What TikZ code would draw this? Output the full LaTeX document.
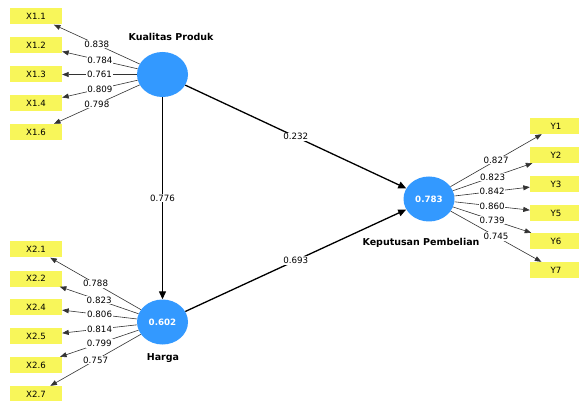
\documentclass[tikz,border=0pt]{standalone}
\usepackage{fontspec}
\setmainfont{DejaVu Sans}
\usetikzlibrary{shapes.geometric,arrows.meta}
\definecolor{plsblue}{RGB}{51,153,255}
\definecolor{plsyellow}{RGB}{248,246,90}
\begin{document}
\begin{tikzpicture}[x=1pt,y=-1pt,
  lv/.style={ellipse,fill=plsblue,minimum width=51pt,minimum height=45pt,inner sep=0pt,text=white,font=\fontsize{8.7}{10}\selectfont\bfseries},
  ind/.style={rectangle,fill=plsyellow,minimum width=52pt,minimum height=16pt,inner sep=0pt,font=\fontsize{8.6}{10}\selectfont},
  lvname/.style={font=\fontsize{9.5}{11}\selectfont\bfseries,inner sep=0pt},
  loadline/.style={draw=black!80,line width=0.6pt,-{Triangle[length=6.5pt,width=5pt]}},
  pathline/.style={draw=black,line width=1.3pt,-{Triangle[length=8pt,width=7pt]}},
  lab/.style={fill=white,inner sep=0.8pt,font=\fontsize{8.7}{10}\selectfont}]
\clip (0,0) rectangle (579,401);
\fill[white] (0,0) rectangle (579,401);

% latent variables
\node[lv] (kp) at (162.5,74.5) {};
\node[lv] (hg) at (162.5,322) {0.602};
\node[lv] (kb) at (429,199) {0.783};
\node[lvname] (kpn) at (171,37) {Kualitas Produk};
\node[lvname] (hgn) at (163,358) {Harga};
\node[lvname] (kbn) at (421,243) {Keputusan Pembelian};

% indicators X1
\node[ind] (x11) at (36,16.5) {X1.1};
\node[ind] (x12) at (36,45.5) {X1.2};
\node[ind] (x13) at (36,74.5) {X1.3};
\node[ind] (x14) at (36,103.5) {X1.4};
\node[ind] (x16) at (36,132) {X1.6};

% indicators X2
\node[ind] (x21) at (36,249.5) {X2.1};
\node[ind] (x22) at (36,278.5) {X2.2};
\node[ind] (x24) at (36,307) {X2.4};
\node[ind] (x25) at (36,336) {X2.5};
\node[ind] (x26) at (36,365) {X2.6};
\node[ind] (x27) at (36,394) {X2.7};

% indicators Y
\node[ind] (y1) at (556,126) {Y1};
\node[ind] (y2) at (556,155) {Y2};
\node[ind] (y3) at (556,184) {Y3};
\node[ind] (y5) at (556,213) {Y5};
\node[ind] (y6) at (556,241) {Y6};
\node[ind] (y7) at (556,270) {Y7};

% loadings Kualitas Produk
\draw[loadline] (kp) -- node[lab]{0.838} (x11);
\draw[loadline] (kp) -- node[lab]{0.784} (x12);
\draw[loadline] (kp) -- node[lab]{0.761} (x13);
\draw[loadline] (kp) -- node[lab]{0.809} (x14);
\draw[loadline] (kp) -- node[lab]{0.798} (x16);

% loadings Harga
\draw[loadline] (hg) -- node[lab]{0.788} (x21);
\draw[loadline] (hg) -- node[lab]{0.823} (x22);
\draw[loadline] (hg) -- node[lab]{0.806} (x24);
\draw[loadline] (hg) -- node[lab]{0.814} (x25);
\draw[loadline] (hg) -- node[lab]{0.799} (x26);
\draw[loadline] (hg) -- node[lab]{0.757} (x27);

% loadings Keputusan Pembelian
\draw[loadline] (kb) -- node[lab]{0.827} (y1);
\draw[loadline] (kb) -- node[lab]{0.823} (y2);
\draw[loadline] (kb) -- node[lab]{0.842} (y3);
\draw[loadline] (kb) -- node[lab]{0.860} (y5);
\draw[loadline] (kb) -- node[lab]{0.739} (y6);
\draw[loadline] (kb) -- node[lab]{0.745} (y7);

% structural paths
\draw[pathline] (kp) -- node[lab,pos=0.5]{0.776} (hg);
\draw[pathline] (kp) -- node[lab,pos=0.5]{0.232} (kb);
\draw[pathline] (hg) -- node[lab,pos=0.5]{0.693} (kb);
\end{tikzpicture}
\end{document}
